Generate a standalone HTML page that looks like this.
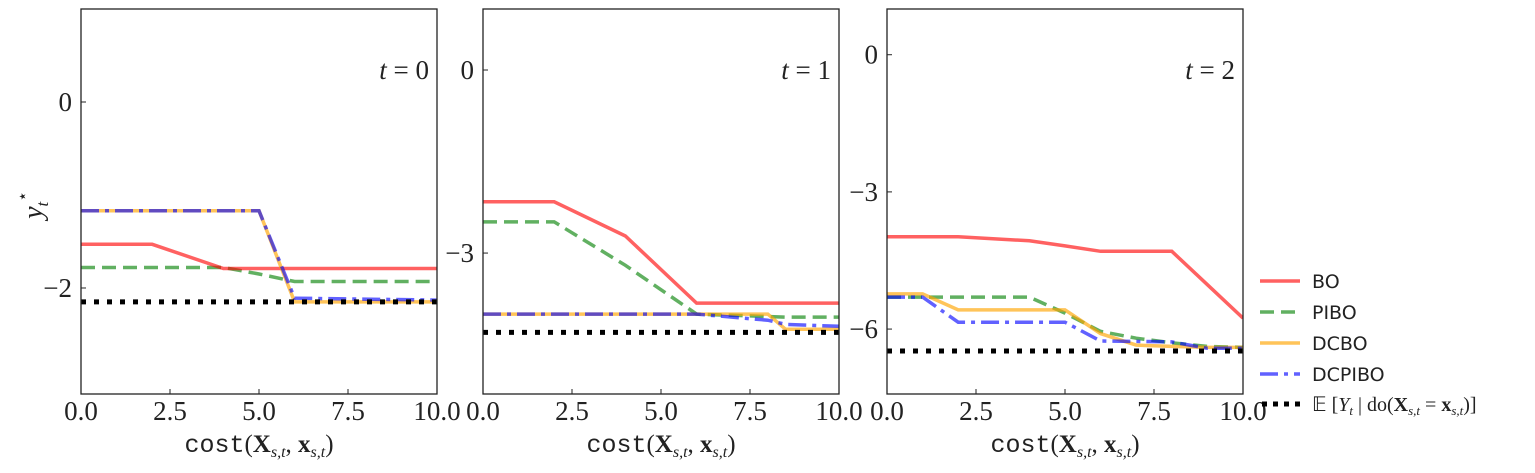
<!DOCTYPE html>
<html><head><meta charset="utf-8"><style>
body{margin:0;background:#fff;width:1535px;height:468px;overflow:hidden}
</style></head><body>
<svg id="chart" width="1535" height="468" xmlns="http://www.w3.org/2000/svg" font-family="Liberation Serif, serif">
</svg>
<script>
const xs1=[0,2,4,5,6,10];
const bo1=[-1.53,-1.53,-1.79,-1.79,-1.79,-1.79];
const pibo1=[-1.78,-1.78,-1.78,-1.85,-1.93,-1.93];
const dcbo1=[-1.17,-1.17,-1.17,-1.17,-2.15,-2.15];
const dcpibo1=[-1.17,-1.17,-1.17,-1.17,-2.11,-2.13];
const true1=-2.15;
const xs2=[0,2,4,6,8,8.5,10];
const bo2=[-2.16,-2.16,-2.72,-3.82,-3.82,-3.82,-3.82];
const pibo2=[-2.49,-2.49,-3.2,-4.0,-4.04,-4.05,-4.05];
const dcbo2=[-4.0,-4.0,-4.0,-4.0,-4.0,-4.25,-4.25];
const dcpibo2=[-4.0,-4.0,-4.0,-4.0,-4.1,-4.17,-4.2];
const true2=-4.3;
const xs3=[0,1,2,4,5,6,7,8,9,10];
const bo3=[-3.98,-3.98,-3.98,-4.07,-4.18,-4.3,-4.3,-4.3,-5.03,-5.76];
const pibo3=[-5.3,-5.3,-5.3,-5.3,-5.65,-6.05,-6.2,-6.3,-6.38,-6.4];
const dcbo3=[-5.23,-5.23,-5.58,-5.58,-5.58,-6.1,-6.35,-6.38,-6.4,-6.4];
const dcpibo3=[-5.3,-5.3,-5.85,-5.85,-5.85,-6.26,-6.27,-6.28,-6.42,-6.42];
const true3=-6.48;
const xTicks=[0,2.5,5,7.5,10];
const xTickLabels=["0.0","2.5","5.0","7.5","10.0"];
const yTicks1=[0,-2],yTicks2=[0,-3],yTicks3=[0,-3,-6];
const NS="http://www.w3.org/2000/svg";
const svg=document.getElementById('chart');
function mk(tag,attrs,parent){const e=document.createElementNS(NS,tag);for(const k in attrs)e.setAttribute(k,attrs[k]);(parent||svg).appendChild(e);return e;}
const styles={bo:{stroke:"rgba(255,0,0,0.62)",dash:""},pibo:{stroke:"rgba(0,128,0,0.62)",dash:"14,7"},dcbo:{stroke:"rgba(255,165,0,0.65)",dash:""},dcpibo:{stroke:"rgba(0,0,255,0.62)",dash:"18,6,4,6"}};
const panels=[
 {x0:81,ymin:-3.14,ymax:1.0,xs:xs1,s:{bo:bo1,pibo:pibo1,dcbo:dcbo1,dcpibo:dcpibo1},tr:true1,yt:yTicks1,lab:"0"},
 {x0:483,ymin:-5.31,ymax:1.0,xs:xs2,s:{bo:bo2,pibo:pibo2,dcbo:dcbo2,dcpibo:dcpibo2},tr:true2,yt:yTicks2,lab:"1"},
 {x0:887,ymin:-7.42,ymax:1.0,xs:xs3,s:{bo:bo3,pibo:pibo3,dcbo:dcbo3,dcpibo:dcpibo3},tr:true3,yt:yTicks3,lab:"2"}];
const W=356,T=9,B=394;
panels.forEach((p,i)=>{
 const g=mk('g',{});
 
 
 const X=v=>p.x0+v/10*W, Y=v=>T+(p.ymax-v)/(p.ymax-p.ymin)*(B-T);
 const clip=mk('clipPath',{id:'c'+i},g);mk('rect',{x:p.x0,y:T,width:W,height:B-T},clip);
 const lg=mk('g',{'clip-path':'url(#c'+i+')'},g);
 ['pibo','bo','dcbo','dcpibo'].forEach(k=>{
  const d=p.xs.map((x,j)=>(j?'L':'M')+X(x).toFixed(1)+','+Y(p.s[k][j]).toFixed(1)).join(' ');
  const path=mk('path',{d:d,fill:'none',stroke:styles[k].stroke,'stroke-width':3.5,'stroke-dasharray':styles[k].dash},lg);
  
  
 });
 const tl=mk('line',{x1:X(0),x2:X(10),y1:Y(p.tr),y2:Y(p.tr),stroke:'#000','stroke-width':5,'stroke-dasharray':'5,8'},lg);
 
 
 mk('rect',{x:p.x0,y:T,width:W,height:B-T,fill:'none',stroke:'#222','stroke-width':1.3},g);
 xTicks.forEach((v,j)=>{
  mk('line',{x1:X(v),x2:X(v),y1:B,y2:B-5,stroke:'#222','stroke-width':1},g);
  const t=mk('text',{x:X(v),y:420,'font-size':27,'text-anchor':'middle',fill:'#222'},g);t.textContent=xTickLabels[j];
  
  
 });
 p.yt.forEach(v=>{
  mk('line',{x1:p.x0,x2:p.x0+5,y1:Y(v),y2:Y(v),stroke:'#222','stroke-width':1},g);
  const t=mk('text',{x:p.x0-9,y:Y(v)+9,'font-size':27,'text-anchor':'end',fill:'#222'},g);t.textContent=v<0?'\u2212'+(-v):String(v);
  
  
 });
 const tt=mk('text',{x:p.x0+W-8,y:79,'font-size':27,'text-anchor':'end',fill:'#222'},g);
 tt.innerHTML='<tspan font-style="italic">t</tspan> = '+p.lab;
 
 
 const xl=mk('text',{x:p.x0+W/2,y:452,'font-size':25,'text-anchor':'middle',fill:'#222'},g);
 xl.innerHTML='<tspan font-family="Liberation Mono, monospace">cost</tspan>(<tspan font-weight="bold">X</tspan><tspan font-size="16" font-style="italic" dy="5">s,t</tspan><tspan dy="-5">, </tspan><tspan font-weight="bold">x</tspan><tspan font-size="16" font-style="italic" dy="5">s,t</tspan><tspan dy="-5">)</tspan>';
 
 
});
const yl=mk('text',{x:0,y:0,'font-size':28,'font-style':'italic','text-anchor':'middle',fill:'#222',transform:'translate(42,205) rotate(-90)'});
yl.innerHTML='y<tspan font-size="17" dy="6">t</tspan><tspan font-size="17" dy="-20" font-style="normal">⋆</tspan>';


const legNames=["BO","PIBO","DCBO","DCPIBO"],legKeys=["bo","pibo","dcbo","dcpibo"],legY=[281,312,343,374,404];
const lgG=mk('g',{});


legKeys.forEach((k,i)=>{
 const l=mk('line',{x1:1260,x2:1300,y1:legY[i],y2:legY[i],stroke:styles[k].stroke,'stroke-width':3.5,'stroke-dasharray':styles[k].dash},lgG);
 
 
 const t=mk('text',{x:1312,y:legY[i]+7,'font-size':19,fill:'#222','font-family':'DejaVu Sans, sans-serif'},lgG);t.textContent=legNames[i];
 
 
});
mk('line',{x1:1262,x2:1300,y1:legY[4],y2:legY[4],stroke:'#000','stroke-width':5,'stroke-dasharray':'5,6'},lgG);
const lt=mk('text',{x:1312,y:legY[4]+7,'font-size':20,fill:'#222'},lgG);
lt.innerHTML='𝔼 [<tspan font-style="italic">Y</tspan><tspan font-size="13" dy="4" font-style="italic">t</tspan><tspan dy="-4"> | do(</tspan><tspan font-weight="bold">X</tspan><tspan font-size="13" font-style="italic" dy="4">s,t</tspan><tspan dy="-4"> = </tspan><tspan font-weight="bold">x</tspan><tspan font-size="13" font-style="italic" dy="4">s,t</tspan><tspan dy="-4">)]</tspan>';


</script>
</body></html>
